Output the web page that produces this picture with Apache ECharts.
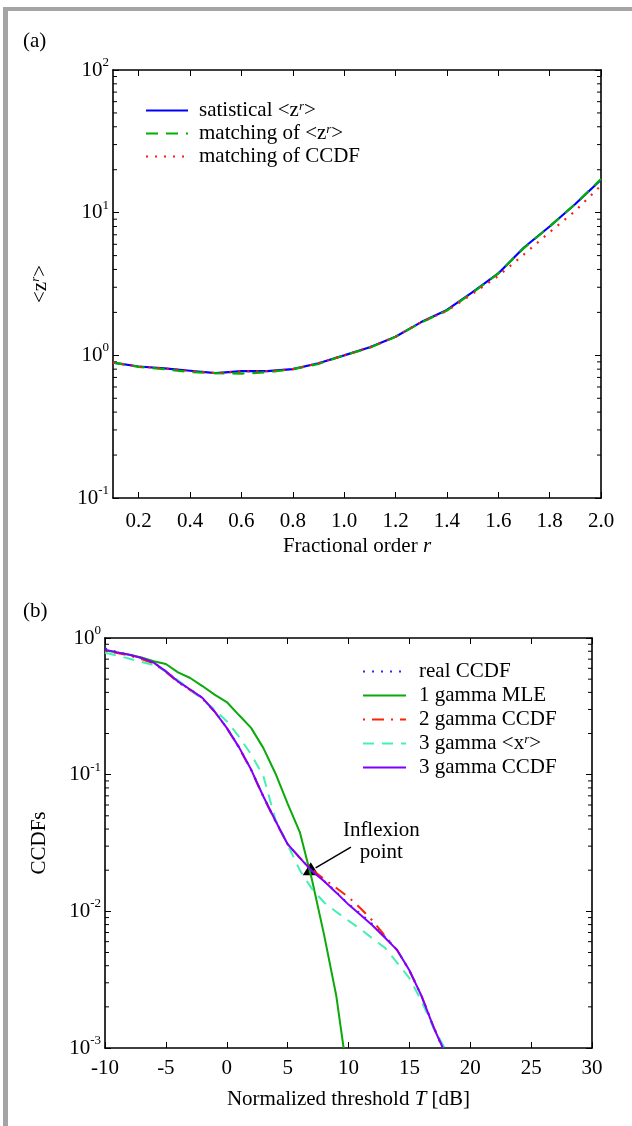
<!DOCTYPE html>
<html>
<head>
<meta charset="utf-8">
<script src="https://cdn.jsdelivr.net/npm/echarts@6/dist/echarts.min.js"></script>
<style>
html,body{margin:0;padding:0;background:#fff;}
#chart{width:632px;height:1126px;}
</style>
</head>
<body>
<div id="chart"></div>
<script>
// ---------- Panel (a) data ----------
const rOrder = [0.1,0.2,0.3,0.4,0.5,0.6,0.7,0.8,0.9,1.0,1.1,1.2,1.3,1.4,1.5,1.6,1.7,1.8,1.9,2.0];
const satisticalZ = [0.89,0.835,0.81,0.78,0.75,0.775,0.775,0.80,0.88,1.0,1.14,1.35,1.71,2.08,2.77,3.75,5.7,8.0,11.5,17];
const matchingZ   = [0.89,0.83,0.80,0.765,0.75,0.745,0.76,0.80,0.87,1.0,1.13,1.35,1.70,2.06,2.75,3.75,5.65,8.0,11.5,17.2];
const matchingCCDF= [0.89,0.835,0.81,0.78,0.75,0.77,0.775,0.80,0.88,1.0,1.14,1.35,1.71,2.05,2.7,3.6,5.1,7.3,10.3,15.5];
const rTicks = [0.2,0.4,0.6,0.8,1.0,1.2,1.4,1.6,1.8,2.0];
const namesA = ['satistical <z^r>','matching of <z^r>','matching of CCDF'];

// ---------- Panel (b) data ----------
const tPurple = [-10,-9,-8,-7,-6,-5,-4,-3,-2,-1,0,1,2,3,4,5,6,7,8,9,10,11,12,13,14,15,16,17,17.75];
const gamma3CCDF = [0.82,0.785,0.755,0.715,0.66,0.57,0.48,0.42,0.365,0.29,0.22,0.159,0.109,0.0695,0.046,0.031,0.0246,0.0197,0.0166,0.0137,0.0112,0.0094,0.00785,0.0064,0.0052,0.0037,0.0024,0.00141,0.001];
const tReal = [-10,-9,-8,-7,-6,-5,-4,-3,-2,-1,0,1,2,3,4,5,6,7,8,9,10,11,12,13,14,15,16,17,17.8];
const realCCDF = [0.84,0.79,0.755,0.715,0.66,0.57,0.48,0.42,0.365,0.29,0.22,0.159,0.109,0.0695,0.046,0.031,0.0246,0.0198,0.0167,0.0138,0.0113,0.0096,0.0080,0.0065,0.0052,0.0037,0.0024,0.00142,0.001];
const tRed = [-10,-9,-8,-7,-6,-5,-4,-3,-2,-1,0,1,2,3,4,5,6,7,8,9,10,11,12,13,14,15,16,17,17.7];
const gamma2CCDF = [0.80,0.775,0.745,0.70,0.65,0.565,0.475,0.415,0.36,0.29,0.22,0.158,0.108,0.069,0.0455,0.031,0.0247,0.0202,0.0172,0.0148,0.0127,0.0105,0.0085,0.0066,0.0052,0.0037,0.0024,0.00142,0.001];
const tCyan = [-10,-9,-8,-7,-6,-5,-4,-3,-2,-1,0,1,2,3,4,5,6,7,8,9,10,11,12,13,14,15,16,17,17.9];
const gamma3Moment = [0.78,0.745,0.706,0.668,0.634,0.57,0.49,0.42,0.356,0.30,0.246,0.19,0.141,0.098,0.047,0.0308,0.020,0.0146,0.0116,0.0099,0.00855,0.0074,0.0063,0.0054,0.0042,0.00325,0.0022,0.00139,0.001];
const tGreen = [-10,-9,-8,-7,-6,-5,-4,-3,-2,-1,0,1,2,3,4,5,6,7,8,9,9.6];
const gamma1MLE = [0.81,0.785,0.755,0.72,0.675,0.645,0.56,0.51,0.445,0.385,0.34,0.273,0.22,0.157,0.102,0.0615,0.038,0.017,0.0067,0.0024,0.001];
const namesB = ['real CCDF','1 gamma MLE','2 gamma CCDF','3 gamma <x^r>','3 gamma CCDF'];
const inflexionPoint = [[6.9, 0.0205]];
const arrowLine = [[10.2, 0.0295],[7.3, 0.0208]];
const inflexionText = [[12.7, 0.0325]];

const FONT = 'Liberation Serif';
const FS = 21;
function zip(xs, ys){ return xs.map((x,i)=>[x, ys[i]]); }
function minorVals(k0, k1){ const out=[]; for(let k=k0;k<=k1;k++){ for(let m=2;m<=9;m++) out.push(m*Math.pow(10,k)); } return out; }
function supFmt(s){ return s.replace('^r','{sup|r}'); }
function logLabel(v){ const e = Math.round(Math.log10(v)); return '{b|10}{s|' + e + '}'; }

const axisLineStyle = {lineStyle:{color:'#000', width:1.6}};
const supRich = {sup:{fontFamily:FONT, fontSize:13, fontStyle:'italic', verticalAlign:'top', lineHeight:12, color:'#000'}};
const logRich = {b:{fontFamily:FONT, fontSize:FS, lineHeight:28, color:'#000'}, s:{fontFamily:FONT, fontSize:13, lineHeight:12, verticalAlign:'top', color:'#000'}};

function xAx(grid, min, max, opts, top){
  const a = Object.assign({
    type:'value', gridIndex:grid, min:min, max:max, position: top?'top':'bottom',
    axisLine: Object.assign({onZero:false}, axisLineStyle),
    axisTick:{inside:true, length:6, lineStyle:{color:'#000', width:1}},
    splitLine:{show:false},
    axisLabel:{show:!top, color:'#000', fontFamily:FONT, fontSize:FS}
  }, opts);
  if (top) { a.name = ''; a.axisLabel = Object.assign({}, a.axisLabel, {show:false}); }
  return a;
}
function yAx(grid, min, max, right, opts){
  return Object.assign({
    type:'log', logBase:10, gridIndex:grid, min:min, max:max, position: right?'right':'left',
    axisLine: Object.assign({onZero:false}, axisLineStyle),
    axisTick:{inside:true, length:6, lineStyle:{color:'#000', width:1}},
    splitLine:{show:false},
    minorTick:{show:false},
    axisLabel: right ? {show:false} : {show:true, margin:4, formatter:logLabel, rich:logRich}
  }, opts||{});
}
function minorSeries(xi, yi, xmin, xmax, vals){
  return {
    type:'custom', xAxisIndex:xi, yAxisIndex:yi, silent:true, clip:false,
    encode:{x:[0,2], y:1},
    data: vals.map(v=>[xmin, v, xmax]),
    renderItem: function(params, api){
      const p1 = api.coord([api.value(0), api.value(1)]);
      const p2 = api.coord([api.value(2), api.value(1)]);
      return {type:'group', children:[
        {type:'line', shape:{x1:p1[0], y1:p1[1], x2:p1[0]+4, y2:p1[1]}, style:{stroke:'#000', lineWidth:1}},
        {type:'line', shape:{x1:p2[0]-4, y1:p2[1], x2:p2[0], y2:p2[1]}, style:{stroke:'#000', lineWidth:1}}
      ]};
    }
  };
}
function lineSeries(name, xi, yi, data, color, type, width){
  return {type:'line', name:name, xAxisIndex:xi, yAxisIndex:yi, data:data, symbol:'none', showSymbol:false,
    lineStyle:{color:color, width:width||2, type:type}, itemStyle:{color:color}, silent:true, clip:true};
}
const legendText = {fontFamily:FONT, fontSize:FS, lineHeight:20, color:'#000', rich:supRich};

const chart = echarts.init(document.getElementById('chart'), null, {renderer:'canvas'});
const option = {
  animation:false,
  backgroundColor:'#fff',
  textStyle:{fontFamily:FONT, color:'#000'},
  graphic:[
    {type:'rect', left:3, top:7, shape:{width:629, height:4}, style:{fill:'#a4a4a4'}},
    {type:'rect', left:3, top:7, shape:{width:5, height:1119}, style:{fill:'#a4a4a4'}},
    {type:'text', left:23, top:31, style:{text:'(a)', font:'21px "Liberation Serif"', fill:'#000'}},
    {type:'text', left:23, top:601, style:{text:'(b)', font:'21px "Liberation Serif"', fill:'#000'}}
  ],
  grid:[
    {left:113, top:70, width:488, height:428},
    {left:105, top:638, width:487, height:410}
  ],
  legend:[
    {data:namesA, orient:'vertical', left:145, top:100, padding:0, itemWidth:42, itemHeight:14, itemGap:2,
     itemStyle:{opacity:0}, formatter:supFmt, textStyle:Object.assign({padding:[0,0,0,6]}, legendText)},
    {data:namesB, orient:'vertical', left:362, top:661, padding:0, itemWidth:43, itemHeight:14, itemGap:3,
     itemStyle:{opacity:0}, formatter:supFmt, textStyle:Object.assign({padding:[0,0,0,8]}, legendText)}
  ],
  xAxis:[
    xAx(0, 0.1, 2.0, {
      axisTick:{inside:true, length:6, customValues:rTicks, lineStyle:{color:'#000', width:1}},
      axisLabel:{color:'#000', fontFamily:FONT, fontSize:FS, margin:13, customValues:rTicks, formatter:v=>v.toFixed(1)},
      name:'Fractional order {i|r}', nameLocation:'middle', nameGap:38,
      nameTextStyle:{fontFamily:FONT, fontSize:FS, color:'#000', rich:{i:{fontFamily:FONT, fontSize:FS, fontStyle:'italic'}}}
    }),
    xAx(0, 0.1, 2.0, {axisTick:{inside:true, length:6, customValues:rTicks, lineStyle:{color:'#000', width:1}}}, true),
    xAx(1, -10, 30, {
      interval:5,
      axisLabel:{color:'#000', fontFamily:FONT, fontSize:FS, margin:10},
      name:'Normalized threshold {i|T} [dB]', nameLocation:'middle', nameGap:41,
      nameTextStyle:{fontFamily:FONT, fontSize:FS, color:'#000', rich:{i:{fontFamily:FONT, fontSize:FS, fontStyle:'italic'}}}
    }),
    xAx(1, -10, 30, {interval:5}, true)
  ],
  yAxis:[
    yAx(0, 0.1, 100, false, {name:'<z{sup|r}>', nameLocation:'middle', nameGap:62, nameRotate:90,
      nameTextStyle:{fontFamily:FONT, fontSize:FS, color:'#000', lineHeight:22, rich:supRich}}),
    yAx(0, 0.1, 100, true),
    yAx(1, 0.001, 1, false, {name:'CCDFs', nameLocation:'middle', nameGap:55, nameRotate:90,
      nameTextStyle:{fontFamily:FONT, fontSize:FS, color:'#000'}}),
    yAx(1, 0.001, 1, true)
  ],
  series:[
    minorSeries(0, 0, 0.1, 2.0, minorVals(-1, 1)),
    minorSeries(2, 2, -10, 30, minorVals(-3, -1)),
    lineSeries(namesA[0], 0, 0, zip(rOrder, satisticalZ), '#0000ff', 'solid', 2.2),
    lineSeries(namesA[1], 0, 0, zip(rOrder, matchingZ), '#00b000', [12,8], 2.2),
    lineSeries(namesA[2], 0, 0, zip(rOrder, matchingCCDF), '#ff1a1a', [2,7], 2.2),
    lineSeries(namesB[0], 2, 2, zip(tReal, realCCDF), '#2a2aff', [2,7], 2),
    lineSeries(namesB[1], 2, 2, zip(tGreen, gamma1MLE), '#0aaa0a', 'solid', 2),
    lineSeries(namesB[2], 2, 2, zip(tRed, gamma2CCDF), '#ff2200', [2,7,12,7], 2),
    lineSeries(namesB[3], 2, 2, zip(tCyan, gamma3Moment), '#45f0b0', [11,8], 2),
    lineSeries(namesB[4], 2, 2, zip(tPurple, gamma3CCDF), '#7f00ff', 'solid', 2),
    {type:'line', name:'arrow', xAxisIndex:2, yAxisIndex:2, data:arrowLine, symbol:'none', silent:true,
      lineStyle:{color:'#000', width:1.5}},
    {type:'scatter', name:'inflexion', xAxisIndex:2, yAxisIndex:2, data:inflexionPoint, symbol:'triangle',
      symbolSize:[16,13], itemStyle:{color:'#000', opacity:1}, silent:true},
    {type:'scatter', name:'inflexionText', xAxisIndex:2, yAxisIndex:2, data:inflexionText, symbol:'circle',
      symbolSize:1, itemStyle:{color:'rgba(0,0,0,0)', opacity:1}, silent:true,
      label:{show:true, position:'inside', formatter:'Inflexion\npoint', fontFamily:FONT, fontSize:FS, lineHeight:22, color:'#000', opacity:1, align:'center'}}
  ]
};
chart.setOption(option);
</script>
</body>
</html>
